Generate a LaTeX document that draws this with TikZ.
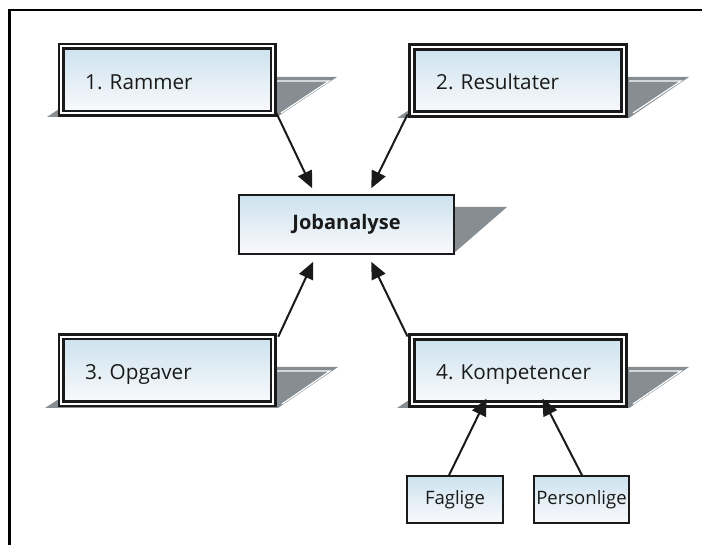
\documentclass[tikz,border=0pt]{standalone}
\usepackage{fontspec}
\setmainfont{Open Sans}
\usetikzlibrary{arrows.meta,calc}
\definecolor{boxtop}{RGB}{204,226,239}
\definecolor{boxbot}{RGB}{250,250,252}
\definecolor{shadowgray}{RGB}{134,142,147}
\definecolor{ink}{RGB}{26,26,26}
\tikzset{
  bigbox/.style={rectangle, inner sep=0pt, top color=boxtop, bottom color=boxbot,
    draw=ink, double=white, double distance=2pt, line width=2.5pt,
    minimum width=212pt, minimum height=67pt},
  thickbox/.style={bigbox, line width=3pt},
  centerbox/.style={rectangle, inner sep=0pt, top color=boxtop, bottom color=boxbot,
    draw=ink, line width=1.5pt, minimum width=215pt, minimum height=59pt,
    font=\fontsize{20}{24}\selectfont\bfseries, text=ink},
  smallbox/.style={rectangle, inner sep=0pt, top color=boxtop, bottom color=boxbot,
    draw=ink, line width=1.5pt, minimum width=96pt, minimum height=47pt,
    font=\fontsize{18.5}{22}\selectfont, text=ink},
  label/.style={inner sep=0pt, anchor=base west, font=\fontsize{20.7}{24}\selectfont, text=ink},
  highlight/.style={draw=white, line width=1.2pt},
  arr/.style={draw=ink, line width=2pt, -{Triangle[length=17pt,width=15pt]}},
  framebar/.style={draw=black, line width=2.5pt}
}
\begin{document}
\begin{tikzpicture}[x=1pt,y=-1pt]
\useasboundingbox (0,0) rectangle (702,545);
% frame
\draw[framebar] (9.5,545) -- (9.5,10) -- (702,10);
% shadows
\fill[shadowgray] (107,77) -- (337,77) -- (277,117) -- (47,117) -- cycle;
\draw[highlight] (270,81) -- (329,81) -- (281,113);
\fill[shadowgray] (459,77) -- (689,77) -- (629,118) -- (397,118) -- cycle;
\draw[highlight] (629,81) -- (681,81) -- (633,113);
\fill[shadowgray] (108,367) -- (338,367) -- (278,408) -- (45,408) -- cycle;
\draw[highlight] (272,371) -- (330,371) -- (282,404);
\fill[shadowgray] (459,367) -- (689,367) -- (629,408) -- (397,408) -- cycle;
\draw[highlight] (629,371) -- (681,371) -- (633,404);
\fill[shadowgray] (400,207) -- (507,207) -- (454,253) -- (400,253) -- cycle;
% boxes
\node[bigbox] (r1) at (167,80) {};
\node[thickbox] (r2) at (518,80.5) {};
\node[bigbox] (r3) at (167,370.5) {};
\node[thickbox] (r4) at (518,370.5) {};
\node[centerbox] (job) at (346.5,224.5) {Jobanalyse};
\node[smallbox] (fag) at (455,499.5) {Faglige};
\node[smallbox, minimum width=95pt] (per) at (581.5,499.5) {Personlige};
% labels
\node[label] (t1) at (85,90) {1. Rammer};
\node[label] (t2) at (436,90) {2. Resultater};
\node[label] (t3) at (85,380) {3. Opgaver};
\node[label] (t4) at (436,380) {4. Kompetencer};
% arrows
\draw[arr] ($(r1.south east)+(2,-2)$) -- ($(job.north west)+(74,-6)$);
\draw[arr] ($(r2.south west)+(-3,-1)$) -- ($(job.north west)+(133,-6)$);
\draw[arr] ($(r3.north east)+(4,1)$) -- ($(job.south west)+(75,7)$);
\draw[arr] ($(r4.north west)+(-3,1)$) -- ($(job.south west)+(133,7)$);
\draw[arr] ($(fag.north)+(-6,0)$) -- ($(r4.south west)+(76,-7)$);
\draw[arr] ($(per.north)+(0.5,0)$) -- ($(r4.south west)+(132,-7)$);
\end{tikzpicture}
\end{document}
